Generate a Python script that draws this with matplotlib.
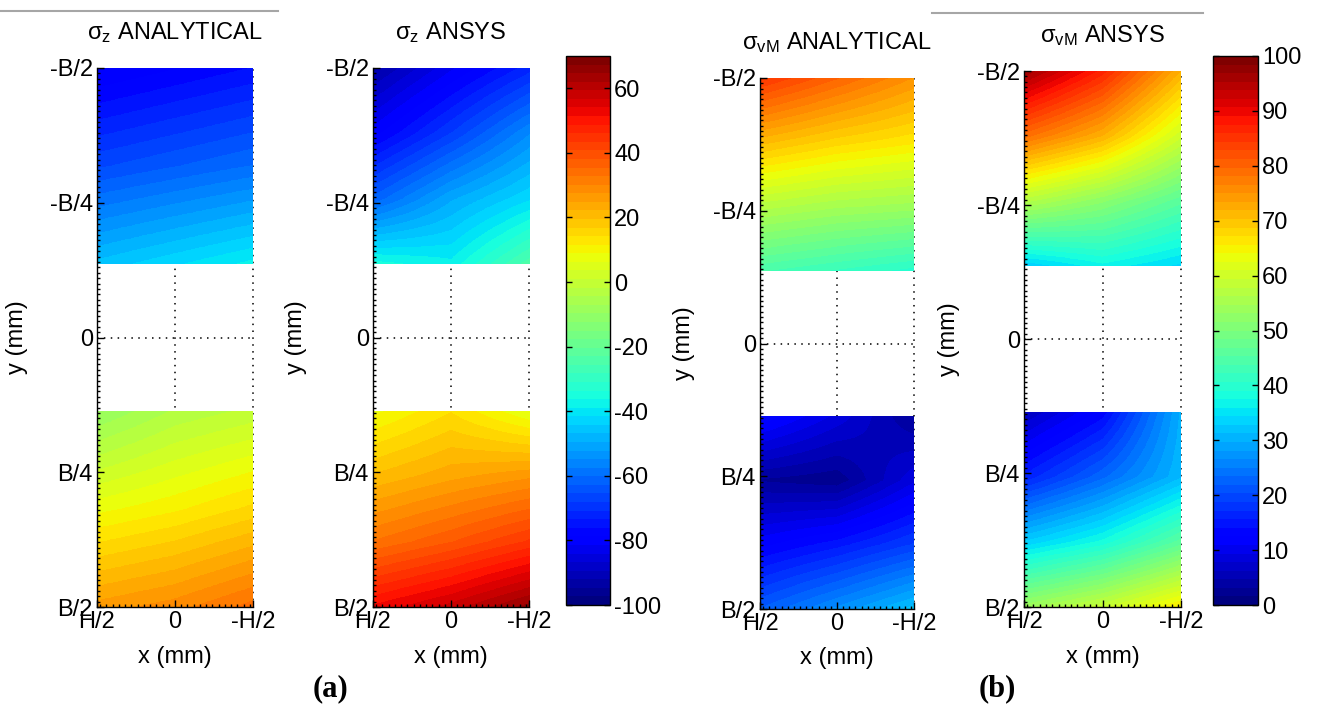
import numpy as np
import matplotlib
matplotlib.use('Agg')
import matplotlib.pyplot as plt
from matplotlib.patches import Rectangle
from matplotlib.lines import Line2D
from matplotlib.colors import Normalize
from matplotlib.cm import ScalarMappable
from matplotlib.ticker import MultipleLocator

plt.rcParams['font.family'] = ['Liberation Sans', 'DejaVu Sans']
plt.rcParams['mathtext.default'] = 'regular'
plt.rcParams['axes.unicode_minus'] = False

# ---------------- data ----------------
titles = [r'$\sigma_z$ ANALYTICAL', r'$\sigma_z$ ANSYS',
          r'$\sigma_{vM}$ ANALYTICAL', r'$\sigma_{vM}$ ANSYS']
y_tick_vals = [-0.5, -0.25, 0.0, 0.25, 0.5]
y_tick_labels = ['-B/2', '-B/4', '0', 'B/4', 'B/2']
x_tick_vals = [0.5, 0.0, -0.5]
x_tick_labels = ['H/2', '0', '-H/2']
x_label = 'x (mm)'
y_label = 'y (mm)'

# stress values (MPa) sampled on strip grids: rows top->bottom, cols H/2 -> -H/2
sz_analytical_top = [[-82, -79, -76],
                     [-66, -63, -60],
                     [-46, -42, -38]]
sz_analytical_bot = [[-10, -4, -1],
                     [8, 11, 15],
                     [26, 29, 34]]
sz_ansys_top = [[-93, -82, -72],
                [-80, -68, -55],
                [-62, -50, -42],
                [-35, -38, -24]]
sz_ansys_bot = [[8, 14, 6],
                [20, 24, 27],
                [33, 38, 44],
                [52, 58, 66]]
vm_analytical_top = [[85, 80, 75],
                     [71, 68, 66],
                     [57, 55, 54],
                     [44, 42, 40]]
vm_analytical_bot = [[14, 9, 3],
                     [3, 2, 9],
                     [12, 15, 19],
                     [22, 27, 32]]
vm_ansys_top = [[97, 87, 72],
                [79, 72, 60],
                [57, 52, 46],
                [33, 37, 34]]
vm_ansys_bot = [[6, 13, 30],
                [16, 23, 31],
                [33, 38, 46],
                [54, 59, 66]]

sz_range = (-100, 70)
vm_range = (0, 100)
sz_cbar_ticks = [-100, -80, -60, -40, -20, 0, 20, 40, 60]
vm_cbar_ticks = [0, 10, 20, 30, 40, 50, 60, 70, 80, 90, 100]
hole = 0.137  # half height of the blank middle region (fraction of B)

# ---------------- figure ----------------
W, H = 1319, 706
fig = plt.figure(figsize=(W / 100, H / 100), dpi=100)
cmap = plt.get_cmap('jet', 64)
FS = 17


def fr(l, t, r, b):
    return [l / W, 1 - b / H, (r - l) / W, (b - t) / H]


def panel(rect, top, bot, rng, title, ylx):
    ax = fig.add_axes(rect)
    for vals, (y0, y1) in [(top, (-0.5, -hole)), (bot, (hole, 0.5))]:
        arr = np.asarray(vals, float)
        nr, nc = arr.shape
        dx = 1.0 / (nc - 1)
        dy = (y1 - y0) / (nr - 1)
        ext = (0.5 + dx / 2, -0.5 - dx / 2, y1 + dy / 2, y0 - dy / 2)
        im = ax.imshow(arr, cmap=cmap, vmin=rng[0], vmax=rng[1],
                       interpolation='bilinear', interpolation_stage='data',
                       extent=ext, origin='upper', aspect='auto', zorder=1)
        im.set_clip_path(Rectangle((-0.5, y0), 1.0, y1 - y0,
                                   transform=ax.transData))
    ax.set_xlim(0.5, -0.5)
    ax.set_ylim(0.5, -0.5)
    dot = dict(color='black', lw=1.1, ls=(0, (1, 3.5)), zorder=0.5)
    ax.axvline(0.0, **dot)
    ax.axvline(-0.5, clip_on=False, **dot)
    ax.axhline(0.0, **dot)
    for s in ('top', 'right'):
        ax.spines[s].set_visible(False)
    for s in ('left', 'bottom'):
        ax.spines[s].set_linewidth(1.0)
        ax.spines[s].set_zorder(3)
    ax.set_yticks(y_tick_vals, y_tick_labels)
    ax.set_xticks(x_tick_vals, x_tick_labels)
    ax.yaxis.set_minor_locator(MultipleLocator(0.01))
    ax.xaxis.set_minor_locator(MultipleLocator(0.04))
    ax.tick_params(which='major', direction='in', length=5, width=1,
                   labelsize=FS, pad=3)
    ax.tick_params(which='minor', direction='in', length=2.5, width=1)
    ax.set_ylabel(y_label, fontsize=FS)
    ax.yaxis.set_label_coords(ylx, 0.5)
    ax.set_xlabel(x_label, fontsize=FS)
    ax.xaxis.set_label_coords(0.5, -0.072)
    ax.set_title(title, fontsize=FS, pad=21)
    return ax


panel(fr(97, 68, 253, 607), sz_analytical_top, sz_analytical_bot, sz_range, titles[0], -0.44)
panel(fr(373, 68, 529, 607), sz_ansys_top, sz_ansys_bot, sz_range, titles[1], -0.42)
panel(fr(760, 78, 914, 609), vm_analytical_top, vm_analytical_bot, vm_range, titles[2], -0.425)
panel(fr(1024, 71, 1181, 607), vm_ansys_top, vm_ansys_bot, vm_range, titles[3], -0.41)


def cbar(rect, rng, ticks):
    cax = fig.add_axes(rect)
    sm = ScalarMappable(Normalize(rng[0], rng[1]), cmap)
    cb = fig.colorbar(sm, cax=cax, ticks=ticks)
    cb.ax.tick_params(direction='in', length=4, width=1, left=True, right=True,
                      labelsize=FS, pad=3)
    cb.outline.set_linewidth(1.0)
    return cb


cbar(fr(566, 56, 610, 605), sz_range, sz_cbar_ticks)
cbar(fr(1213, 56, 1258, 605), vm_range, vm_cbar_ticks)

# decorative grey rules at the top
fig.add_artist(Line2D([0, 278 / W], [1 - 11 / H] * 2, color='#a6a6a6', lw=1.5,
                      transform=fig.transFigure))
fig.add_artist(Line2D([932 / W, 1203 / W], [1 - 13 / H] * 2, color='#a6a6a6', lw=1.5,
                      transform=fig.transFigure))

fig.text(330 / W, 1 - 689 / H, '(a)', family=['Liberation Serif', 'DejaVu Serif'],
         weight='bold', fontsize=22, ha='center', va='center')
fig.text(997 / W, 1 - 689 / H, '(b)', family=['Liberation Serif', 'DejaVu Serif'],
         weight='bold', fontsize=22, ha='center', va='center')

fig.savefig('out.png', dpi=100)
